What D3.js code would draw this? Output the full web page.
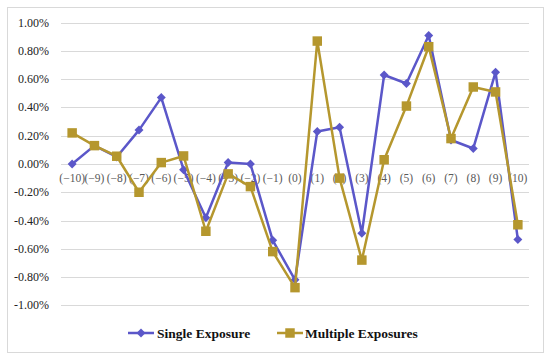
<!DOCTYPE html>
<html>
<head>
<meta charset="utf-8">
<script src="https://cdn.jsdelivr.net/npm/d3@7"></script>
<style>
  body { margin: 0; background: #fff; }
  svg text { font-family: "Liberation Serif", "DejaVu Serif", serif; }
</style>
</head>
<body>
<svg id="chart" width="550" height="361"></svg>
<script>
// event window days
const days = ["(−10)", "(−9)", "(−8)", "(−7)", "(−6)", "(−5)", "(−4)", "(−3)", "(−2)", "(−1)", "(0)",
  "(1)", "(2)", "(3)", "(4)", "(5)", "(6)", "(7)", "(8)", "(9)", "(10)"];

// values in %
const singleExposure = [0.00, 0.13, 0.05, 0.24, 0.47, -0.04, -0.38, 0.01, 0.00, -0.54, -0.82,
  0.23, 0.26, -0.49, 0.63, 0.57, 0.91, 0.17, 0.11, 0.65, -0.535];
const multipleExposures = [0.22, 0.13, 0.055, -0.20, 0.01, 0.057, -0.476, -0.07, -0.16, -0.62, -0.875,
  0.87, -0.10, -0.68, 0.03, 0.41, 0.83, 0.18, 0.545, 0.51, -0.43];

const yTicks = [1.0, 0.8, 0.6, 0.4, 0.2, 0, -0.2, -0.4, -0.6, -0.8, -1.0];

const svg = d3.select('#chart');

// outer border
svg.append('rect')
  .attr('x', 7.5).attr('y', 7.5)
  .attr('width', 536).attr('height', 345)
  .attr('fill', '#fff')
  .attr('stroke', '#d9d9d9');

const x = d3.scaleBand().domain(days).range([61, 529]);
const y = d3.scaleLinear().domain([-1, 1]).range([305.3, 22.7]);

// gridlines
svg.append('g')
  .selectAll('line')
  .data(yTicks)
  .enter()
  .append('line')
  .attr('x1', 61).attr('x2', 529)
  .attr('y1', d => Math.round(y(d)) + 0.5)
  .attr('y2', d => Math.round(y(d)) + 0.5)
  .attr('stroke', '#d9d9d9')
  .attr('stroke-width', 1);

// y labels
svg.append('g')
  .selectAll('text')
  .data(yTicks)
  .enter()
  .append('text')
  .attr('x', 49)
  .attr('y', d => y(d) + 4)
  .attr('text-anchor', 'end')
  .attr('font-size', 12)
  .attr('fill', '#222')
  .text(d => (d < 0 ? '-' : '') + Math.abs(d * 1).toFixed(2) + '%');

// category labels, sitting just under the zero line
svg.append('g')
  .selectAll('text')
  .data(days)
  .enter()
  .append('text')
  .attr('x', d => x(d) + x.bandwidth() / 2)
  .attr('y', y(0) + 18)
  .attr('text-anchor', 'middle')
  .attr('font-size', 11.5)
  .attr('fill', '#595959')
  .text(d => d);

// diamonds are squares turned 45deg
const series = [
  { name: 'Single Exposure', values: singleExposure, color: '#5b57c9', marker: d3.symbolSquare, size: 40, rot: 45 },
  { name: 'Multiple Exposures', values: multipleExposures, color: '#b5972e', marker: d3.symbolSquare, size: 90, rot: 0 }
];

const line = d3.line()
  .x((d, i) => x(days[i]) + x.bandwidth() / 2)
  .y(d => y(d));

series.forEach(s => {
  const g = svg.append('g');
  g.append('path')
    .attr('d', line(s.values))
    .attr('fill', 'none')
    .attr('stroke', s.color)
    .attr('stroke-width', 2.5)
    .attr('stroke-linejoin', 'round');

  g.selectAll('path.pt')
    .data(s.values)
    .enter()
    .append('path')
    .attr('class', 'pt')
    .attr('d', d3.symbol().type(s.marker).size(s.size))
    .attr('transform', (d, i) => `translate(${x(days[i]) + x.bandwidth() / 2},${y(d)}) rotate(${s.rot})`)
    .attr('fill', s.color);
});

// legend
const legendItems = [
  { s: series[0], x0: 128, tx: 157 },
  { s: series[1], x0: 277, tx: 305 }
];
legendItems.forEach(item => {
  const g = svg.append('g');
  g.append('line')
    .attr('x1', item.x0).attr('x2', item.x0 + 26)
    .attr('y1', 333).attr('y2', 333)
    .attr('stroke', item.s.color)
    .attr('stroke-width', 2.5);
  g.append('path')
    .attr('d', d3.symbol().type(item.s.marker).size(item.s.size))
    .attr('transform', `translate(${item.x0 + 13},333) rotate(${item.s.rot})`)
    .attr('fill', item.s.color);
  g.append('text')
    .attr('x', item.tx)
    .attr('y', 337.5)
    .attr('font-size', 13.5)
    .attr('font-weight', 'bold')
    .attr('fill', '#111')
    .text(item.s.name);
});
</script>
</body>
</html>
